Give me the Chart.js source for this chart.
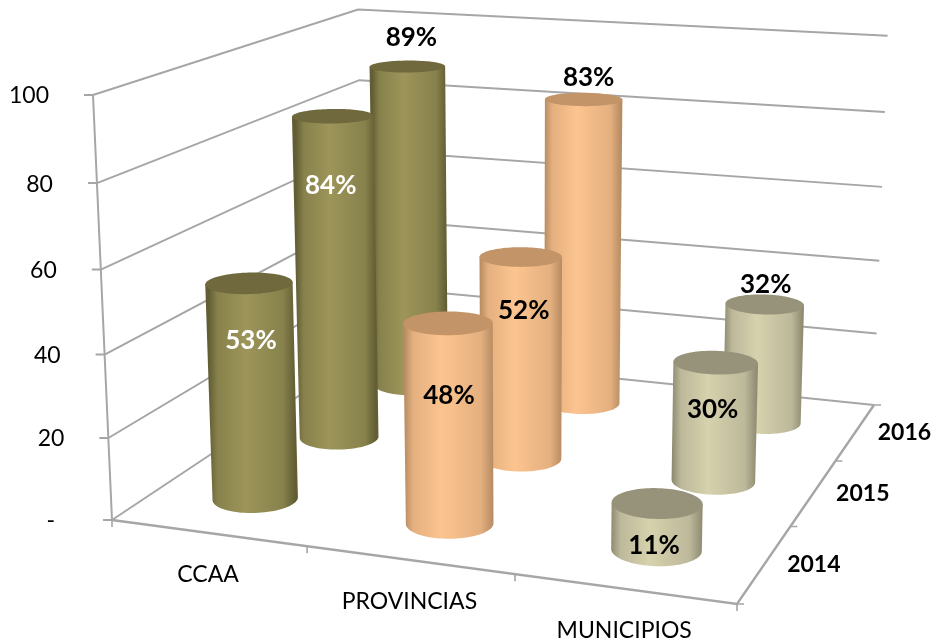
<!DOCTYPE html>
<html>
<head>
<meta charset="utf-8">
<style>
html,body{margin:0;padding:0;background:#fff}
#wrap{width:934px;height:641px;position:relative}
</style>
<script src="https://cdn.jsdelivr.net/npm/chart.js@4/dist/chart.umd.js"></script>
</head>
<body>
<div id="wrap"><canvas id="c" width="934" height="641"></canvas></div>
<script>
// ---- data ----
const categories = ['CCAA', 'PROVINCIAS', 'MUNICIPIOS'];
const years = ['2014', '2015', '2016'];
const values2014 = [53, 48, 11];
const values2015 = [84, 52, 30];
const values2016 = [89, 83, 32];
const yTicks = [0, 20, 40, 60, 80, 100];

// ---- look ----
const FONT = 'Lato, Carlito, sans-serif';
const LINE = '#a6a6a6';
const tones = [
  {edge:'#625e33', mid:'#87814c', light:'#9d9559', top:'#6f693d'},
  {edge:'#b88c62', mid:'#e4b07f', light:'#fcc48f', top:'#c39468'},
  {edge:'#8f8c72', mid:'#bcb89a', light:'#d6d2ad', top:'#97937b'}
];
// label placement relative to the top centre of each cylinder, [year][category]
const labelNudge = [
  [[2,57],[1,72],[-3,42]],
  [[-2,70],[3,54],[-3,47]],
  [[4,-29],[5,-22],[1,-20]]
];
const labelWhite = [[true,false,false],[true,false,false],[false,false,false]];

// ---- 3D box: unit cube (u along categories, w into depth, v up) to screen ----
const A=[112,520], D=[737,604], C=[874,405], B=[364,352.5], Atop=[93,95], vBow=-0.0437;
const RADIUS = 0.068;
const proj = (function(){
  const dx1=D[0]-C[0], dy1=D[1]-C[1], dx2=B[0]-C[0], dy2=B[1]-C[1];
  const sx=A[0]-D[0]+C[0]-B[0], sy=A[1]-D[1]+C[1]-B[1];
  const det=dx1*dy2-dy1*dx2;
  const g=(sx*dy2-sy*dx2)/det, h=(dx1*sy-dy1*sx)/det;
  return {g,h,
    ax:D[0]*(g+1)-A[0], bx:B[0]*(h+1)-A[0], cx:Atop[0]*(1+vBow)-A[0],
    ay:D[1]*(g+1)-A[1], by:B[1]*(h+1)-A[1], cy:Atop[1]*(1+vBow)-A[1]};
})();
function project(u,w,v){
  const p=proj, d=p.g*u+p.h*w+1+vBow*v;
  return [(p.ax*u+p.bx*w+p.cx*v+A[0])/d,(p.ay*u+p.by*w+p.cy*v+A[1])/d];
}
const normU = (s,px)=>(px-s.left)/(s.right-s.left);
const normV = (s,px)=>(s.bottom-px)/(s.bottom-s.top);

function placeLabels(items, fn){
  items.forEach((it,i)=>{
    const [x,y,align]=fn(it,i);
    it.textOffset=0;
    it.options.translation=[x,y];
    it.options.textAlign=align;
    it.options.textBaseline='middle';
    it.options.rotation=0;
  });
  return items;
}

// ---- axes that put the library's tick labels along the 3D edges ----
class DepthCategoryScale extends Chart.CategoryScale {
  _computeLabelArea(){ return undefined; }
  _computeLabelItems(ca){
    const items=super._computeLabelItems(ca);
    const front=this.id==='x';
    return placeLabels(items,(it,i)=>{
      const t=normU(this,this.getPixelForTick(i));
      if(front){ const p=project(t,0,0); return [p[0],p[1]+42,'center']; }
      const p=project(1,t,0); return [p[0]+49,p[1]+1,'center'];
    });
  }
}
DepthCategoryScale.id='depthCategory';
DepthCategoryScale.defaults=Chart.CategoryScale.defaults;

class WallLinearScale extends Chart.LinearScale {
  _computeLabelArea(){ return undefined; }
  _computeLabelItems(ca){
    const items=super._computeLabelItems(ca);
    return placeLabels(items,(it,i)=>{
      const val=this.ticks[i].value;
      const p=project(0,0,val/100);
      return [p[0]-(val===0?57:44),p[1]+1,'right'];
    });
  }
}
WallLinearScale.id='wallLinear';
WallLinearScale.defaults=Chart.LinearScale.defaults;

// ---- cylinders ----
function ring(u,w,v){
  const pts=[];
  for(let i=0;i<96;i++){
    const t=i/96*Math.PI*2;
    pts.push(project(u+RADIUS*Math.cos(t),w+RADIUS*Math.sin(t),v));
  }
  return pts;
}
function extremes(pts){
  let l=0,r=0;
  pts.forEach((p,i)=>{ if(p[0]<pts[l][0])l=i; if(p[0]>pts[r][0])r=i; });
  return [l,r];
}
function drawCylinder(ctx,u,w,v,tone){
  const bot=ring(u,w,0), top=ring(u,w,v);
  const [bl,br]=extremes(bot), [tl,tr]=extremes(top);
  const x0=(bot[bl][0]+top[tl][0])/2, x1=(bot[br][0]+top[tr][0])/2;
  const grad=ctx.createLinearGradient(x0,0,x1,0);
  grad.addColorStop(0,tone.edge);
  grad.addColorStop(0.1,tone.mid);
  grad.addColorStop(0.42,tone.light);
  grad.addColorStop(0.86,tone.mid);
  grad.addColorStop(1,tone.edge);
  ctx.beginPath();
  ctx.moveTo(top[tl][0],top[tl][1]);
  ctx.lineTo(bot[bl][0],bot[bl][1]);
  // lower half of the base: walk the ring from left extreme to right extreme through larger y
  const n=bot.length;
  const forward=[]; for(let i=bl;;i=(i+1)%n){forward.push(bot[i]); if(i===br)break;}
  const backward=[]; for(let i=bl;;i=(i-1+n)%n){backward.push(bot[i]); if(i===br)break;}
  const avg=a=>a.reduce((s,p)=>s+p[1],0)/a.length;
  const lower=avg(forward)>avg(backward)?forward:backward;
  lower.forEach(p=>ctx.lineTo(p[0],p[1]));
  ctx.lineTo(top[tr][0],top[tr][1]);
  ctx.closePath();
  ctx.fillStyle=grad;
  ctx.fill();
  ctx.beginPath();
  top.forEach((p,i)=>i?ctx.lineTo(p[0],p[1]):ctx.moveTo(p[0],p[1]));
  ctx.closePath();
  ctx.fillStyle=tone.top;
  ctx.fill();
}
class CylinderController extends Chart.BarController {
  draw(){
    const meta=this.getMeta(), chart=this.chart, ctx=chart.ctx;
    const xs=chart.scales.x, ys=chart.scales.y, zs=chart.scales.z;
    const w=normU(zs,zs.getPixelForValue(this.index));
    meta.data.forEach((el,i)=>{
      drawCylinder(ctx,normU(xs,el.x),w,normV(ys,el.y),tones[i]);
    });
  }
}
CylinderController.id='cylinder';
CylinderController.defaults=Chart.BarController.defaults;
CylinderController.overrides=Chart.BarController.overrides;

Chart.register(CylinderController,DepthCategoryScale,WallLinearScale);

function seg(ctx,a,b){ ctx.moveTo(a[0],a[1]); ctx.lineTo(b[0],b[1]); }

const framePlugin={
  id:'frame3d',
  beforeDatasetsDraw(chart){
    const ctx=chart.ctx, ys=chart.scales.y;
    ctx.save();
    ctx.strokeStyle=LINE; ctx.lineCap='butt';
    // wall gridlines and ticks
    ctx.lineWidth=2;
    ctx.beginPath();
    ys.ticks.forEach(t=>{
      const v=t.value/100;
      const a=project(0,0,v), b=project(0,1,v), c=project(1,1,v);
      ctx.moveTo(a[0],a[1]); ctx.lineTo(b[0],b[1]); ctx.lineTo(c[0],c[1]);
      seg(ctx,[a[0]-9,a[1]],a);
    });
    seg(ctx,project(0,0,1),project(0,0,0));
    ctx.stroke();
    // floor front edges and their ticks
    ctx.lineWidth=2.4;
    ctx.beginPath();
    const a=project(0,0,0), d=project(1,0,0), e=project(1,1,0);
    ctx.moveTo(a[0],a[1]); ctx.lineTo(d[0],d[1]); ctx.lineTo(e[0],e[1]);
    ctx.stroke();
    ctx.lineWidth=1.6;
    ctx.beginPath();
    const nx=categories.length, nz=years.length;
    for(let i=0;i<=nx;i++){ const p=project(i/nx,0,0); seg(ctx,p,[p[0],p[1]+7]); }
    for(let i=0;i<=nz;i++){ const p=project(1,i/nz,0); seg(ctx,p,[p[0]+7,p[1]]); }
    ctx.stroke();
    ctx.restore();
  },
  afterDatasetsDraw(chart){
    const ctx=chart.ctx, xs=chart.scales.x, ys=chart.scales.y, zs=chart.scales.z;
    ctx.save();
    ctx.font='bold 26px '+FONT;
    ctx.textAlign='center'; ctx.textBaseline='middle';
    chart.data.datasets.forEach((ds,di)=>{
      const meta=chart.getDatasetMeta(di);
      const w=normU(zs,zs.getPixelForValue(di));
      meta.data.forEach((el,i)=>{
        const p=project(normU(xs,el.x),w,normV(ys,el.y));
        const n=labelNudge[di][i];
        ctx.fillStyle=labelWhite[di][i]?'#ffffff':'#000000';
        ctx.fillText(ds.data[i]+'%',p[0]+n[0],p[1]+n[1]);
      });
    });
    ctx.restore();
  }
};

const noSize=s=>{ s.width=0; };
const noHeight=s=>{ s.height=0; };

new Chart(document.getElementById('c'),{
  type:'cylinder',
  data:{
    labels:categories,
    datasets:[
      {label:years[0],data:values2014,grouped:false,backgroundColor:tones.map(t=>t.light)},
      {label:years[1],data:values2015,grouped:false,backgroundColor:tones.map(t=>t.light)},
      {label:years[2],data:values2016,grouped:false,backgroundColor:tones.map(t=>t.light)}
    ]
  },
  options:{
    responsive:false,
    animation:false,
    events:[],
    layout:{padding:40},
    plugins:{legend:{display:false},tooltip:{enabled:false},title:{display:false}},
    scales:{
      x:{type:'depthCategory',axis:'x',position:'bottom',offset:true,afterFit:noHeight,
         grid:{display:false},border:{display:false},
         ticks:{autoSkip:false,maxRotation:0,color:'#000',font:{family:FONT,size:23}}},
      z:{type:'depthCategory',axis:'x',position:'bottom',offset:true,labels:years,afterFit:noHeight,
         grid:{display:false},border:{display:false},
         ticks:{autoSkip:false,maxRotation:0,color:'#000',font:{family:FONT,size:23,weight:'bold'}}},
      y:{type:'wallLinear',axis:'y',position:'left',min:yTicks[0],max:yTicks[yTicks.length-1],afterFit:noSize,
         grid:{display:false},border:{display:false},
         afterBuildTicks:s=>{ s.ticks=yTicks.map(v=>({value:v})); },
         ticks:{color:'#000',font:{family:FONT,size:23},callback:v=>v===0?'-':String(v)}}
    }
  },
  plugins:[framePlugin]
});
</script>
</body>
</html>
